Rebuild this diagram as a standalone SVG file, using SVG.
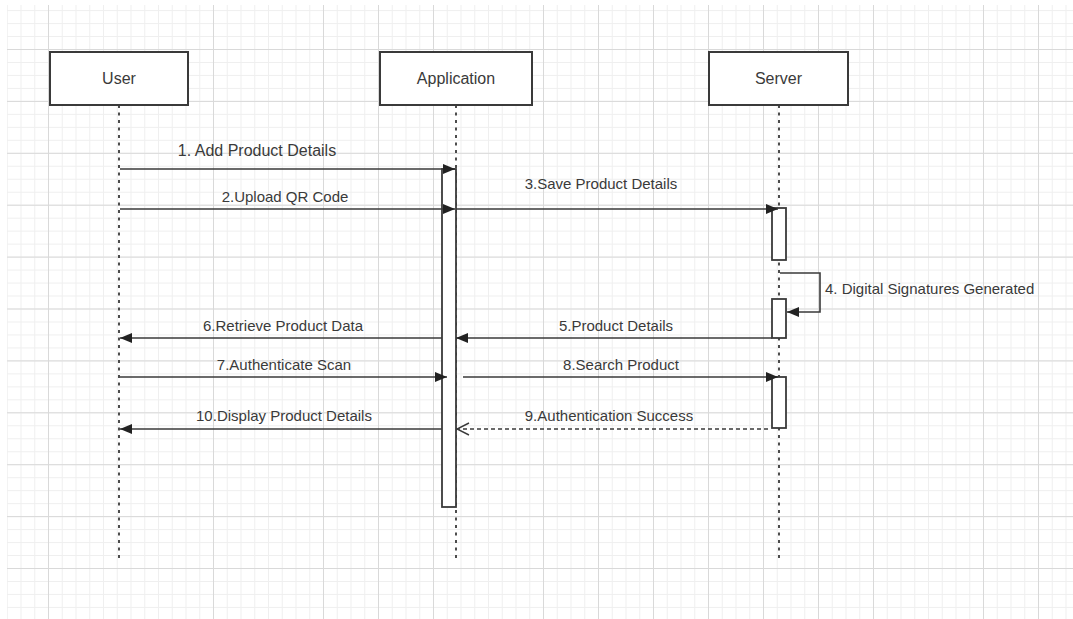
<svg xmlns="http://www.w3.org/2000/svg" width="1073" height="619" viewBox="0 0 1073 619">
  <style>
    .box { fill: #ffffff; stroke: #3a3a3a; stroke-width: 2; }
    .bar { fill: #ffffff; stroke: #3a3a3a; stroke-width: 1.8; }
    .node-label { font-family: "Liberation Sans", Arial, sans-serif; font-size: 16px; fill: #3a3a3a; text-anchor: middle; }
    .msg-label { font-family: "Liberation Sans", Arial, sans-serif; font-size: 15px; fill: #3a3a3a; text-anchor: middle; }
    .lifeline { stroke: #3a3a3a; stroke-width: 1.8; stroke-dasharray: 3 4.5; fill: none; }
    .msg { stroke: #3a3a3a; stroke-width: 1.6; fill: none; }
    .msg-solid { marker-end: url(#arrow-filled); }
    .msg-return { stroke-dasharray: 4 3; marker-end: url(#arrow-open); }
  </style>
  <defs>
    <pattern id="grid-minor" x="48" y="49" width="13.75" height="12.975" patternUnits="userSpaceOnUse">
      <path d="M0.5,0 V12.975 M0,0.5 H13.75" stroke="#efefef" stroke-width="1" fill="none"/>
    </pattern>
    <pattern id="grid-major" x="48" y="49" width="55" height="51.9" patternUnits="userSpaceOnUse">
      <path d="M0.5,0 V51.9 M0,0.5 H55" stroke="#d9d9d9" stroke-width="1" fill="none"/>
    </pattern>
    <marker id="arrow-filled" markerUnits="userSpaceOnUse" markerWidth="12" markerHeight="10" refX="12" refY="5" orient="auto">
      <path d="M0,0 L12,5 L0,10 z" fill="#222222"/>
    </marker>
    <marker id="arrow-open" markerUnits="userSpaceOnUse" markerWidth="14" markerHeight="14" refX="13" refY="7" orient="auto">
      <path d="M1,1 L13,7 L1,13" fill="none" stroke="#3a3a3a" stroke-width="1.4"/>
    </marker>
  </defs>

  <rect x="0" y="0" width="1073" height="619" fill="#ffffff"/>
  <g id="grid">
    <rect x="7" y="5" width="1066" height="614" fill="url(#grid-minor)"/>
    <rect x="7" y="5" width="1066" height="614" fill="url(#grid-major)"/>
  </g>

  <g id="lifelines">
    <line class="lifeline" x1="119" y1="105" x2="119" y2="558"/>
    <line class="lifeline" x1="456" y1="105" x2="456" y2="558"/>
    <line class="lifeline" x1="779" y1="105" x2="779" y2="558"/>
  </g>

  <g id="node-user">
    <rect class="box" x="50" y="52" width="138" height="53"/>
    <text class="node-label" x="119" y="83.5">User</text>
  </g>
  <g id="node-application">
    <rect class="box" x="380" y="52" width="152" height="53"/>
    <text class="node-label" x="456" y="83.5">Application</text>
  </g>
  <g id="node-server">
    <rect class="box" x="709" y="52" width="139" height="53"/>
    <text class="node-label" x="778.5" y="83.5">Server</text>
  </g>

  <g id="activation-application">
    <rect class="bar" x="442" y="169" width="14" height="338"/>
  </g>
  <g id="activation-server-1">
    <rect class="bar" x="772" y="208" width="14" height="52"/>
  </g>
  <g id="activation-server-2">
    <rect class="bar" x="772" y="299" width="14" height="39"/>
  </g>
  <g id="activation-server-3">
    <rect class="bar" x="772" y="377" width="14" height="51"/>
  </g>

  <g id="connectors">
    <line class="msg msg-solid" x1="120" y1="169" x2="455" y2="169"/>
    <text class="msg-label" x="257" y="156" style="font-size:16px">1. Add Product Details</text>

    <line class="msg msg-solid" x1="120" y1="209" x2="455" y2="209"/>
    <text class="msg-label" x="285" y="202">2.Upload QR Code</text>

    <line class="msg msg-solid" x1="456" y1="209" x2="778" y2="209"/>
    <text class="msg-label" x="601" y="189">3.Save Product Details</text>

    <path class="msg msg-solid" d="M780,273 H820 V312 H787"/>
    <text class="msg-label" x="825" y="294" style="text-anchor:start">4. Digital Signatures Generated</text>

    <line class="msg msg-solid" x1="772" y1="338" x2="456" y2="338"/>
    <text class="msg-label" x="616" y="331">5.Product Details</text>

    <line class="msg msg-solid" x1="442" y1="338" x2="120" y2="338"/>
    <text class="msg-label" x="283" y="331">6.Retrieve Product Data</text>

    <line class="msg msg-solid" x1="120" y1="377" x2="447" y2="377"/>
    <text class="msg-label" x="284" y="370">7.Authenticate Scan</text>

    <line class="msg msg-solid" x1="463" y1="377" x2="778" y2="377"/>
    <text class="msg-label" x="621" y="370">8.Search Product</text>

    <line class="msg msg-return" x1="768" y1="429" x2="457" y2="429"/>
    <text class="msg-label" x="609" y="421">9.Authentication Success</text>

    <line class="msg msg-solid" x1="442" y1="429" x2="120" y2="429"/>
    <text class="msg-label" x="284" y="421">10.Display Product Details</text>
  </g>
</svg>
